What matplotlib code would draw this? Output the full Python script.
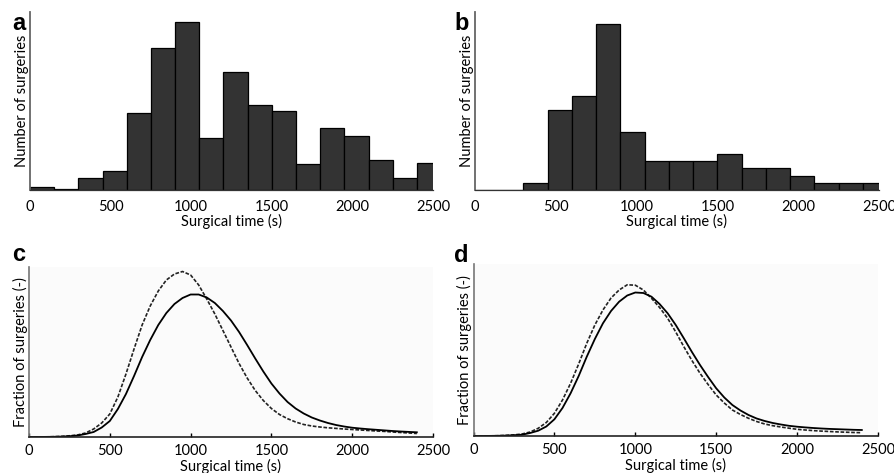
import numpy as np
import matplotlib.pyplot as plt

# histogram bins (s), width 150
bin_edges = [0, 150, 300, 450, 600, 750, 900, 1050, 1200, 1350, 1500,
             1650, 1800, 1950, 2100, 2250, 2400, 2550]
counts_a = [1.0, 0.3, 3.5, 5.6, 23.0, 42.8, 50.5, 15.5, 35.5, 25.6, 23.8,
            7.8, 18.7, 16.2, 8.9, 3.7, 8.1]
counts_b = [0, 0, 1, 11, 13, 23, 8, 4, 4, 4, 5, 3, 3, 2, 1, 1, 1]

# fitted distributions (relative fraction), solid = model 1, dashed = model 2
t = [0, 50, 100, 150, 200, 250, 300, 350, 400, 450, 500, 550, 600, 650, 700,
     750, 800, 850, 900, 950, 1000, 1050, 1100, 1150, 1200, 1250, 1300, 1350,
     1400, 1450, 1500, 1550, 1600, 1650, 1700, 1750, 1800, 1850, 1900, 1950,
     2000, 2050, 2100, 2150, 2200, 2250, 2300, 2350, 2400]
c_solid = [0, 0, 0.1, 0.2, 0.4, 0.8, 1.5, 3, 5, 9.5, 16, 28, 43, 61, 80,
           97, 112, 124, 133, 139, 142.5, 142.5, 139.5, 134, 126, 116.5, 105, 92,
           78.5, 65.5, 53.5, 43.5, 35, 28.5, 23.5, 19.5, 16.5, 14, 12, 10.5,
           9.3, 8.5, 7.8, 7.2, 6.6, 6.0, 5.5, 5.1, 4.7]
c_dash = [0, 0, 0.1, 0.3, 0.6, 1.2, 2, 4, 8, 14, 23, 40, 63, 88, 112,
          131, 146, 157, 163, 165.5, 162, 152, 138, 123, 106.5, 90, 73.5, 59,
          46.5, 36.5, 28.5, 22.5, 18.3, 15, 12.5, 11, 10, 9.2, 8.6, 8,
          7.5, 7, 6.5, 6, 5.6, 5, 4.5, 4, 3.5]
d_solid = [0, 0, 0.1, 0.2, 0.4, 0.8, 1.3, 3, 5.3, 9.5, 16.7, 28, 42.7, 60, 79.3,
           97, 112.7, 125, 134.3, 140.5, 143.5, 143, 139.3, 132, 122.7, 111, 97.7, 84,
           71, 59, 47.7, 38.5, 31, 25.5, 21, 17.5, 15, 13, 11.5, 10.2,
           9.3, 8.6, 8, 7.5, 7.1, 6.8, 6.5, 6.2, 6]
d_dash = [0, 0, 0.1, 0.3, 0.6, 1.1, 2, 4, 7.7, 13.5, 22.7, 36, 52.7, 72, 92.7,
          111, 126, 138, 146, 151.2, 150.8, 146, 137.7, 128.5, 117.7, 104, 89.3, 75.5,
          62.7, 51.5, 41, 33, 26, 21.5, 17.7, 14.5, 12, 10.3, 9, 7.8,
          6.7, 6, 5.4, 4.9, 4.5, 4.1, 3.8, 3.5, 3.3]

xticks = [0, 500, 1000, 1500, 2000, 2500]

plt.rcParams['font.family'] = ['Lato', 'DejaVu Sans']

fig = plt.figure(figsize=(8.94, 4.73), dpi=100)
W, H = 894, 473


def box(left, top, right, bottom):
    return [left / W, (H - bottom) / H, (right - left) / W, (bottom - top) / H]


ax_a = fig.add_axes(box(30, 12, 433, 190))
ax_b = fig.add_axes(box(475, 12, 879, 190))
ax_c = fig.add_axes(box(29, 267, 433, 437))
ax_d = fig.add_axes(box(473.5, 264, 878, 436))


def hist_panel(ax, counts, top):
    widths = np.diff(bin_edges)
    ax.bar(bin_edges[:-1], counts, width=widths, align="edge",
           color="#333333", edgecolor="black", linewidth=0.9)
    ax.set_xlim(0, 2500)
    ax.set_ylim(0, top)
    ax.set_xticks(xticks)
    ax.set_yticks([])
    ax.tick_params(axis="x", length=0, pad=7, labelsize=10.5)
    for s in ["top", "right"]:
        ax.spines[s].set_visible(False)
    ax.spines["left"].set_color("#666666")
    ax.spines["left"].set_linewidth(1.3)
    ax.spines["bottom"].set_color("#333333")
    ax.spines["bottom"].set_linewidth(0.9)
    ax.set_xlabel("Surgical time (s)", fontsize=10.5, labelpad=0.5)
    ax.set_ylabel("Number of surgeries", fontsize=10.5, labelpad=1)


def curve_panel(ax, solid, dash, top):
    ax.set_facecolor("#fbfbfb")
    ax.plot(t, dash, color="#222222", linewidth=1.2, linestyle=(0, (2.2, 1.0)))
    ax.plot(t, solid, color="black", linewidth=1.3)
    ax.set_xlim(0, 2500)
    ax.set_ylim(0, top)
    ax.set_xticks(xticks)
    ax.set_yticks([])
    ax.tick_params(axis="x", direction="in", length=3, width=1, pad=5, labelsize=10.5)
    for s in ["top", "right"]:
        ax.spines[s].set_visible(False)
    ax.spines["left"].set_color("#777777")
    ax.spines["left"].set_linewidth(1.2)
    ax.spines["bottom"].set_color("#222222")
    ax.spines["bottom"].set_linewidth(1.2)
    ax.set_xlabel("Surgical time (s)", fontsize=10.5, labelpad=0.5)
    ax.set_ylabel("Fraction of surgeries (-)", fontsize=10.5, labelpad=1)


hist_panel(ax_a, counts_a, 53.5)
hist_panel(ax_b, counts_b, 24.6)
curve_panel(ax_c, c_solid, c_dash, 170)
curve_panel(ax_d, d_solid, d_dash, 172)

for lab, x, y in [("a", 12, 30), ("b", 454, 30.5), ("c", 12, 261), ("d", 454, 262.5)]:
    fig.text(x / W, (H - y) / H, lab, fontsize=17, fontweight="bold",
             family="Liberation Sans", ha="left", va="baseline")

fig.savefig("out.png", dpi=100)
